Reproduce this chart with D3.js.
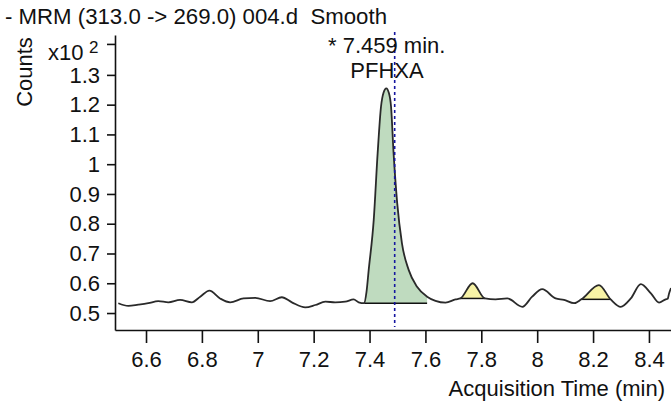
<!DOCTYPE html>
<html>
<head>
<meta charset="utf-8">
<script src="https://cdn.jsdelivr.net/npm/d3@7"></script>
<style>
  html, body { margin: 0; padding: 0; background: #fff; }
  svg { display: block; }
  text { font-family: Arial, "Liberation Sans", sans-serif; fill: #111; }
</style>
</head>
<body>
<svg id="chart" width="671" height="405"></svg>
<script>
// ---- Data (counts in x10^2, time in min) ----
const times = [6.501,6.537,6.572,6.608,6.644,6.680,6.722,6.764,6.794,6.827,6.865,6.901,6.949,6.991,7.044,7.086,7.122,7.170,7.206,7.242,7.277,7.313,7.343,7.361,7.381,7.389,7.397,7.415,7.429,7.441,7.450,7.460,7.469,7.477,7.486,7.499,7.516,7.540,7.570,7.606,7.636,7.672,7.708,7.725,7.769,7.813,7.851,7.893,7.947,7.982,8.018,8.066,8.096,8.132,8.158,8.221,8.263,8.299,8.335,8.371,8.407,8.436,8.460,8.467,8.472,8.479];
const counts = [0.533,0.524,0.528,0.533,0.540,0.536,0.544,0.536,0.555,0.575,0.549,0.536,0.549,0.551,0.540,0.553,0.536,0.519,0.527,0.538,0.536,0.538,0.546,0.536,0.533,0.570,0.645,0.813,1.037,1.193,1.240,1.255,1.240,1.193,1.037,0.869,0.734,0.645,0.588,0.555,0.541,0.535,0.546,0.549,0.600,0.549,0.546,0.549,0.521,0.555,0.580,0.549,0.544,0.533,0.546,0.594,0.546,0.521,0.549,0.597,0.566,0.535,0.546,0.548,0.566,0.584];

// integrated peaks: [start, end, baseline]
const peakStart = [7.381, 7.725, 8.158];
const peakEnd   = [7.606, 7.813, 8.263];
const peakBase  = [0.533, 0.549, 0.546];
const peakKind  = ["main", "minor", "minor"];

const xTicks = [6.6, 6.8, 7.0, 7.2, 7.4, 7.6, 7.8, 8.0, 8.2, 8.4];
const xTickLabels = ["6.6","6.8","7","7.2","7.4","7.6","7.8","8","8.2","8.4"];
const yTicks = [0.5, 0.6, 0.7, 0.8, 0.9, 1.0, 1.1, 1.2, 1.3];
const yTickLabels = ["0.5","0.6","0.7","0.8","0.9","1","1.1","1.2","1.3"];
const yTopTick = 1.404;

const expectedRT = 7.49;
const peakRT = "7.459";
const compound = "PFHXA";
const title = "- MRM (313.0 -> 269.0) 004.d  Smooth";

// ---- Scales ----
const svg = d3.select("#chart");
const x = d3.scaleLinear().domain([6.489, 8.4789]).range([115, 671]);
const y = d3.scaleLinear().domain([0.443, 1.434]).range([330, 35]);

const data = times.map((t, i) => ({ t, v: counts[i] }));
const curve = d3.curveMonotoneX;

// ---- Peak fills ----
const defs = svg.append("defs");
peakStart.forEach((s, i) => {
  const id = "clip" + i;
  defs.append("clipPath").attr("id", id)
    .append("rect")
    .attr("x", x(s)).attr("y", 0)
    .attr("width", x(peakEnd[i]) - x(s)).attr("height", y(peakBase[i]));
  const area = d3.area().curve(curve)
    .x(d => x(d.t)).y0(y(peakBase[i])).y1(d => y(d.v));
  svg.append("path").datum(data)
    .attr("d", area)
    .attr("clip-path", `url(#${id})`)
    .attr("fill", peakKind[i] === "main" ? "#bfdbbf" : "#f7f3a6")
    .attr("stroke", "none");
  svg.append("line")
    .attr("x1", x(s)).attr("x2", x(peakEnd[i]))
    .attr("y1", y(peakBase[i])).attr("y2", y(peakBase[i]))
    .attr("stroke", "#111").attr("stroke-width", 1.5);
});

// ---- Trace ----
const line = d3.line().curve(curve).x(d => x(d.t)).y(d => y(d.v));
svg.append("path").datum(data)
  .attr("d", line)
  .attr("fill", "none")
  .attr("stroke", "#2a2a2a")
  .attr("stroke-width", 1.8);

// ---- Expected RT marker ----
svg.append("line")
  .attr("x1", x(expectedRT)).attr("x2", x(expectedRT))
  .attr("y1", 32).attr("y2", 327)
  .attr("stroke", "#1515a0").attr("stroke-width", 1.6)
  .attr("stroke-dasharray", "3,3");

// ---- Axes ----
const xAxis = d3.axisBottom(x).tickValues(xTicks)
  .tickFormat((d, i) => xTickLabels[i]).tickSize(13).tickSizeOuter(0).tickPadding(4);
const gx = svg.append("g").attr("transform", "translate(0,330)").call(xAxis);
gx.select(".domain").attr("stroke", "#111").attr("stroke-width", 1.6);
gx.selectAll(".tick line").attr("stroke", "#111").attr("stroke-width", 1.6);
gx.selectAll(".tick text").attr("font-size", 22).attr("fill", "#111")
  .attr("font-family", "Arial, 'Liberation Sans', sans-serif").attr("dy", null).attr("y", 37);

const yAxis = d3.axisLeft(y).tickValues(yTicks.concat([yTopTick]))
  .tickFormat((d, i) => i < yTickLabels.length ? yTickLabels[i] : "")
  .tickSize(8).tickSizeOuter(0).tickPadding(7);
const gy = svg.append("g").attr("transform", "translate(115,0)").call(yAxis);
gy.select(".domain").attr("stroke", "#111").attr("stroke-width", 1.6);
gy.selectAll(".tick line").attr("stroke", "#111").attr("stroke-width", 1.6);
gy.selectAll(".tick text").attr("font-size", 22).attr("fill", "#111")
  .attr("font-family", "Arial, 'Liberation Sans', sans-serif").attr("dy", "0.33em");

// exponent label at top tick
svg.append("text").attr("x", 48).attr("y", 60).attr("font-size", 22).text("x10");
svg.append("text").attr("x", 89).attr("y", 53).attr("font-size", 17).text("2");

// axis titles
svg.append("text")
  .attr("transform", "translate(32,72) rotate(-90)")
  .attr("text-anchor", "middle").attr("font-size", 22).text("Counts");
svg.append("text")
  .attr("x", 665).attr("y", 396).attr("text-anchor", "end")
  .attr("font-size", 22).text("Acquisition Time (min)");

// chart title
svg.append("text").attr("x", 5).attr("y", 24).attr("font-size", 22)
  .style("white-space", "pre").attr("textLength", 382).attr("lengthAdjust", "spacingAndGlyphs")
  .text(title);

// peak annotation
svg.append("text").attr("x", 328).attr("y", 53).attr("font-size", 22)
  .style("white-space", "pre").text("* " + peakRT + " min.");
svg.append("text").attr("x", 387).attr("y", 78).attr("text-anchor", "middle")
  .attr("font-size", 22).text(compound);
</script>
</body>
</html>
